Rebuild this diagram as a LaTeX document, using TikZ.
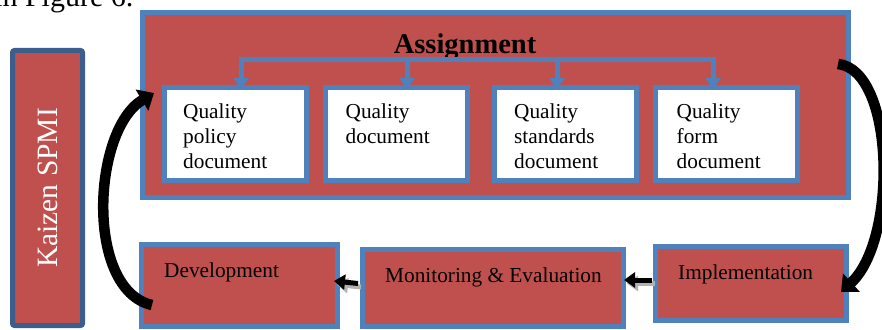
\documentclass[tikz,border=0pt]{standalone}
\usepackage{fontspec}
\setmainfont{Liberation Serif}
\usetikzlibrary{arrows.meta,calc,shadows}
\definecolor{boxred}{HTML}{C0504D}
\definecolor{boxblue}{HTML}{4F81BD}
\definecolor{darkblue}{HTML}{3A5F8C}
\tikzset{
  redbox/.style={draw=boxblue, line width=5pt, fill=boxred, inner sep=0pt},
  whitebox/.style={draw=boxblue, line width=5pt, fill=white, inner sep=0pt, minimum width=142pt, minimum height=93pt},
  boxtext/.style={font=\fontsize{21.3}{24.8}\selectfont, align=left, inner sep=0pt, anchor=north west},
  labeltext/.style={font=\fontsize{21.3}{24}\selectfont, anchor=base west, inner sep=0pt},
  bus/.style={draw=boxblue, line width=5pt},
  busarrow/.style={draw=boxblue, line width=5pt, -{Triangle[width=15pt,length=11pt]}},
  smallarrow/.style={draw=black, line width=5pt, -{Triangle[width=15pt,length=11pt]}},
  shadowarrow/.style={draw=black!30, line width=5pt, -{Triangle[width=15pt,length=11pt]}},
  bigcurve/.style={draw=black, line width=10.5pt, -{Triangle[width=24pt,length=14pt]}},
}
\begin{document}
\begin{tikzpicture}[x=1pt,y=-1pt]
\useasboundingbox (0,0) rectangle (882,329);
\clip (0,0) rectangle (882,329);
% partial text at top
\node[font=\fontsize{30}{32}\selectfont, anchor=base west, inner sep=0pt] (fig) at (-6,7) {in Figure 6.};
% Kaizen
\node[draw=darkblue, line width=5pt, fill=boxred, rounded corners=2pt, minimum width=70pt, minimum height=275pt, inner sep=0pt] (kaizen) at (47.5,188) {};
\node[rotate=90, text=white, font=\fontsize{29.5}{30}\selectfont] (kt) at (kaizen.center) {Kaizen SPMI};
% Assignment container
\node[redbox, minimum width=706pt, minimum height=185pt] (assign) at (495.5,105) {};
\node[font=\bfseries\fontsize{28.5}{30}\selectfont, anchor=base, inner sep=0pt] (at) at (465,53) {Assignment};
% inner boxes
\node[whitebox] (q1) at (235,134) {};
\node[whitebox] (q2) at (396.5,134) {};
\node[whitebox] (q3) at (565,134) {};
\node[whitebox] (q4) at (726.5,134) {};
\node[boxtext] (t1) at ($(q1.north west)+(21.5,18.5)$) {Quality\\policy\\document};
\node[boxtext] (t2) at ($(q2.north west)+(22.5,18.5)$) {Quality\\document};
\node[boxtext] (t3) at ($(q3.north west)+(22.5,18.5)$) {Quality\\standards\\document};
\node[boxtext] (t4) at ($(q4.north west)+(23.5,18.5)$) {Quality\\form\\document};
% bus
\coordinate (b1) at (241,59.5);
\coordinate (b2) at (407,59.5);
\coordinate (b3) at (557,59.5);
\coordinate (b4) at (713,59.5);
\draw[bus, line cap=rect] (b1) -- (b4);
\draw[busarrow] (b1) -- ($(b1 |- q1.north)+(0,4)$);
\draw[busarrow] (b2) -- ($(b2 |- q2.north)+(0,4)$);
\draw[busarrow] (b3) -- ($(b3 |- q3.north)+(0,4)$);
\draw[busarrow] (b4) -- ($(b4 |- q4.north)+(0,4)$);
% bottom boxes
\node[redbox, minimum width=196pt, minimum height=82pt] (dev) at (239.5,285.5) {};
\node[redbox, minimum width=261pt, minimum height=77pt] (mon) at (493,288) {};
\node[redbox, minimum width=191pt, minimum height=74pt] (imp) at (751,283.5) {};
\node[labeltext] (devt) at (164,277) {Development};
\node[labeltext] (mont) at (385,282) {Monitoring \& Evaluation};
\node[labeltext] (impt) at (678,279) {Implementation};
% small arrows with shadow
\draw[shadowarrow] ($(mon.west)+(1,-1)$) -- ($(dev.east)+(-3,-1)$);
\draw[smallarrow] ($(mon.west)+(-2,-4.5)$) -- ($(dev.east)+(-6,-4.5)$);
\draw[shadowarrow] ($(imp.west)+(2,0)$) -- ($(mon.east)+(1,-4.5)$);
\draw[smallarrow] ($(imp.west)+(-1,-3.5)$) -- ($(mon.east)+(-2,-8)$);
% big curved arrows
\coordinate (lt) at (152,305);
\coordinate (lh) at (154,93);
\draw[bigcurve] (lt) .. controls (85,290) and (92,130) .. (lh);
\coordinate (rt) at (838,64);
\coordinate (rh) at (841,292);
\draw[bigcurve] (rt) .. controls (895,70) and (898,240) .. (rh);
\end{tikzpicture}
\end{document}
